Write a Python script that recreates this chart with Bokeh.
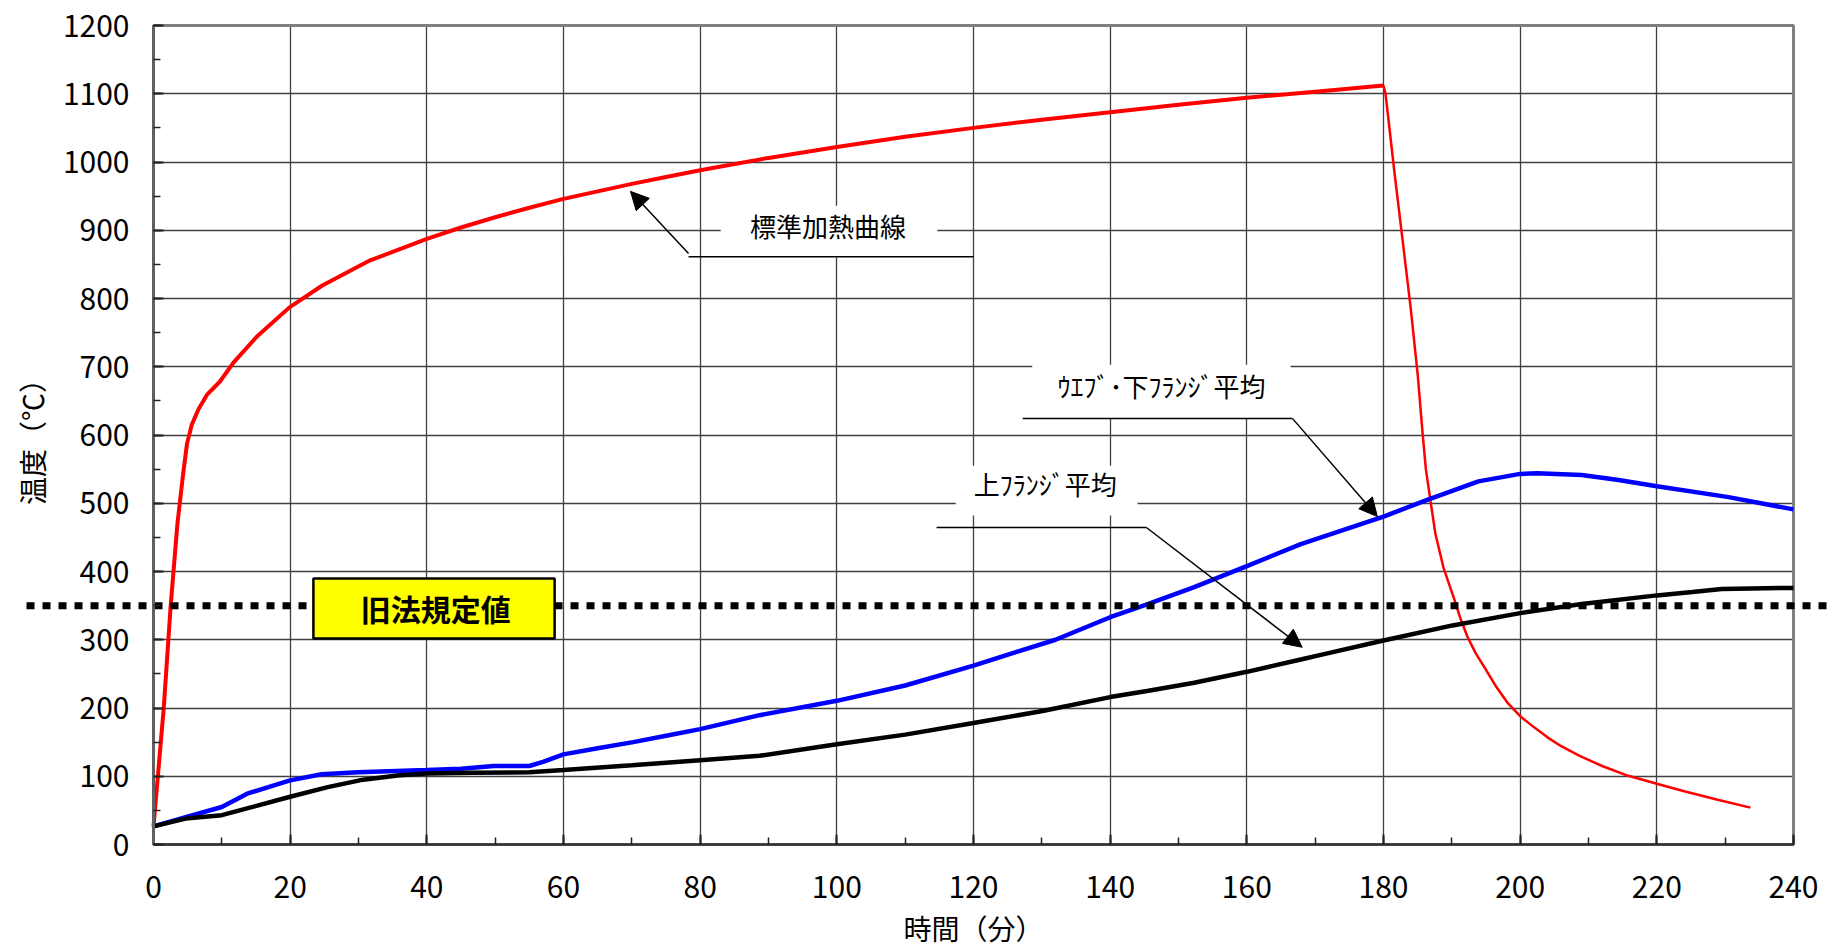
import math
from bokeh.plotting import figure
from bokeh.models import (Range1d, SingleIntervalTicker, Arrow, NormalHead, Label,
                          BoxAnnotation)
from bokeh.embed import file_html
from bokeh.resources import INLINE

# ---------------- data ----------------
std_time = [0, 1.5, 2.5, 3.5, 4.3, 4.9, 5.6, 6.6, 7.9, 9.7, 11.7, 15.1, 19.9, 24.7, 31.5,
            39.9, 45, 50, 55, 60, 65, 70, 75, 80, 90, 100, 110, 120, 130, 140, 150,
            160, 170, 180]
std_temp = [26, 200, 348, 470, 540, 587, 615, 638, 660, 678, 706, 744, 787, 819, 855,
            887, 904, 919, 933, 946, 957, 968, 978, 988, 1006, 1022, 1037, 1050, 1062,
            1073, 1084, 1094, 1103, 1112]

cool_time = [180, 180.3, 181.6, 182.8, 184.0, 185.0, 185.7, 186.2, 186.9, 187.6, 188.8,
             190.4, 191.3, 192.3, 193.5, 195, 196.5, 198.2, 200, 202, 204, 206, 208.7,
             212, 215.7, 220, 224, 228.9, 233.7]
cool_temp = [1112, 1100, 985, 885, 784, 689, 605, 550, 502, 455, 405,
             358, 330, 304, 280, 256, 231, 207, 188, 172, 157, 144, 130,
             115, 101, 89, 78, 65.5, 54]

web_time = [0, 4.7, 10, 13.7, 16.8, 20, 24.6, 29.9, 40, 45, 49.8, 55, 57, 60, 65, 70.2,
            75.4, 80, 88.7, 100, 110, 120, 126.2, 132, 140, 145.4, 152.3, 160, 167.9,
            180, 186.4, 193.9, 200, 202.5, 209, 214.4, 220, 230.5, 240]
web_temp = [26.5, 40, 55, 74.5, 84, 94, 103, 106, 109, 111, 115, 115, 121, 132, 141, 150,
            160, 169, 189.5, 210.5, 233, 262, 282, 300, 333, 352, 377, 408, 440,
            480.5, 505, 532, 543, 544, 541.5, 534, 525, 509, 491]

top_time = [0, 4.7, 10, 15.2, 20, 25.5, 30.7, 36, 40, 46.5, 55, 60, 70, 80, 88.7, 100,
            110, 120, 130.3, 140, 145.4, 152.3, 160, 167.9, 171.3, 180, 190.1, 200, 209,
            220, 225.2, 229.5, 240]
top_temp = [26.5, 38, 43, 57, 70, 84, 95, 101.5, 104, 105, 106, 109, 116, 123.5, 130, 147,
            161, 178, 196, 216, 225, 237, 253, 271, 279, 299, 321, 339, 352.5,
            365, 370, 374.5, 376]

limit_value = 350

x_label = "時間（分）"
y_label = "温度（℃）"
std_label = "標準加熱曲線"
web_label = "ｳｴﾌﾞ･下ﾌﾗﾝｼﾞ平均"
top_label = "上ﾌﾗﾝｼﾞ平均"
limit_label = "旧法規定値"

FONT = "Noto Sans CJK JP"

# ---------------- layout constants (pixels) ----------------
CANVAS_W, CANVAS_H = 1827, 948
AXIS_LEFT_PX = 153          # canvas x of time 0
AXIS_TOP_PX = 25            # canvas y of 1200 °C
PLOT_W_PX, PLOT_H_PX = 1640, 819
X_MIN, X_MAX = 0, 240
Y_MIN, Y_MAX = 0, 1200
px_per_min = PLOT_W_PX / (X_MAX - X_MIN)
px_per_deg = PLOT_H_PX / (Y_MAX - Y_MIN)


def data_x(px):
    return X_MIN + (px - AXIS_LEFT_PX) / px_per_min


def data_y(py):
    return Y_MAX - (py - AXIS_TOP_PX) / px_per_deg


# The frame covers the whole canvas so that the dotted limit line can run from
# page edge to page edge; the axes are pinned to the 0..240 / 0..1200 area.
p = figure(frame_width=CANVAS_W, frame_height=CANVAS_H,
           x_range=Range1d(data_x(0), data_x(CANVAS_W)),
           y_range=Range1d(data_y(CANVAS_H), data_y(0)),
           output_backend="svg", toolbar_location=None,
           min_border_left=0, min_border_top=0, min_border_right=0,
           min_border_bottom=0)
p.background_fill_color = "white"
p.border_fill_color = "white"
p.outline_line_color = None

p.xaxis.ticker = SingleIntervalTicker(interval=20, num_minor_ticks=2)
p.yaxis.ticker = SingleIntervalTicker(interval=100, num_minor_ticks=2)
p.xaxis.bounds = (X_MIN, X_MAX)
p.yaxis.bounds = (Y_MIN, Y_MAX)
p.yaxis.fixed_location = X_MIN
p.xaxis.fixed_location = Y_MIN

for ax in (p.xaxis[0], p.yaxis[0]):
    ax.major_tick_in = 10
    ax.major_tick_out = 0
    ax.minor_tick_in = 7
    ax.minor_tick_out = 0
    ax.major_tick_line_color = "#222222"
    ax.minor_tick_line_color = "#222222"
    ax.major_tick_line_width = 2
    ax.minor_tick_line_width = 1.5
    ax.major_label_text_font = FONT
    ax.major_label_text_font_size = "30px"
    ax.major_label_text_color = "black"

p.yaxis.axis_line_color = "#606060"
p.yaxis.axis_line_width = 3
p.xaxis.axis_line_color = "#333333"
p.xaxis.axis_line_width = 2.5
p.yaxis.major_label_standoff = 24
p.xaxis.major_label_standoff = 31

p.grid.grid_line_color = "#404040"
p.grid.grid_line_width = 1.3
p.xgrid.bounds = (X_MIN, X_MAX)
p.ygrid.bounds = (Y_MIN, Y_MAX)
p.ygrid.cross_bounds = (X_MIN, X_MAX)
p.xgrid.cross_bounds = (Y_MIN, Y_MAX)

# axis titles
p.add_layout(Label(x=(X_MIN + X_MAX) / 2, y=data_y(927), text=x_label, text_font=FONT,
                   text_font_size="28px", text_align="center", text_baseline="middle",
                   text_color="black"))
p.add_layout(Label(x=data_x(31), y=(Y_MIN + Y_MAX) / 2, text=y_label, text_font=FONT,
                   text_font_size="28px", text_align="center", text_baseline="middle",
                   angle=math.pi / 2, text_color="black"))

# plot-area border
p.add_layout(BoxAnnotation(left=X_MIN, right=X_MAX, bottom=Y_MIN, top=Y_MAX,
                           fill_alpha=0, line_color="#808080", line_width=3,
                           line_alpha=1, level="underlay"))

# white label boxes (hide grid lines behind the annotation texts)
p.quad(left=[83.0, 128.6, 117.4], right=[114.7, 166.4, 144.0],
       bottom=[860, 624, 482], top=[936, 703, 555],
       fill_color="white", line_color=None)

# leader lines
p.segment(x0=[78.3, 127.2, 114.6], y0=[861, 624, 464.5],
          x1=[120.0, 166.7, 145.3], y1=[861, 624, 464.5],
          line_color="black", line_width=1.5)

# data lines
p.line(std_time, std_temp, line_color="#ff0000", line_width=4)
p.line(cool_time, cool_temp, line_color="#ff0000", line_width=2.5)
p.line(web_time, web_temp, line_color="#0000ff", line_width=4.5)
p.line(top_time, top_temp, line_color="black", line_width=4.5)

# dotted limit line, running past the plot area to the page edges
p.segment(x0=[data_x(26)], y0=[limit_value], x1=[data_x(CANVAS_W)], y1=[limit_value],
          line_color="black", line_width=7, line_dash="8 8", line_cap="butt")

# yellow label box
p.add_layout(BoxAnnotation(left=23.4, right=58.7, bottom=301.8, top=389.7,
                           fill_color="#ffff00", fill_alpha=1,
                           line_color="black", line_width=2.5, line_alpha=1))
p.add_layout(Label(x=41.3, y=346, text=limit_label, text_font=FONT,
                   text_font_size="30px", text_font_style="bold",
                   text_align="center", text_baseline="middle", text_color="black"))

# arrows
def head():
    return NormalHead(size=18, fill_color="black", line_color="black", line_width=1)

p.add_layout(Arrow(end=head(), x_start=78.3, y_start=866, x_end=69.8, y_end=957,
                   line_color="black", line_width=1.5))
p.add_layout(Arrow(end=head(), x_start=166.7, y_start=624, x_end=179.1, y_end=480.6,
                   line_color="black", line_width=1.5))
p.add_layout(Arrow(end=head(), x_start=145.3, y_start=464.5, x_end=168.1, y_end=289,
                   line_color="black", line_width=1.5))

# annotation texts
for tx, ty, txt in ((98.7, 907, std_label), (147.5, 672.5, web_label),
                    (130.5, 529, top_label)):
    p.add_layout(Label(x=tx, y=ty, text=txt, text_font=FONT, text_font_size="26px",
                       text_align="center", text_baseline="middle", text_color="black"))

open("out.html", "w").write(file_html(p, INLINE))
